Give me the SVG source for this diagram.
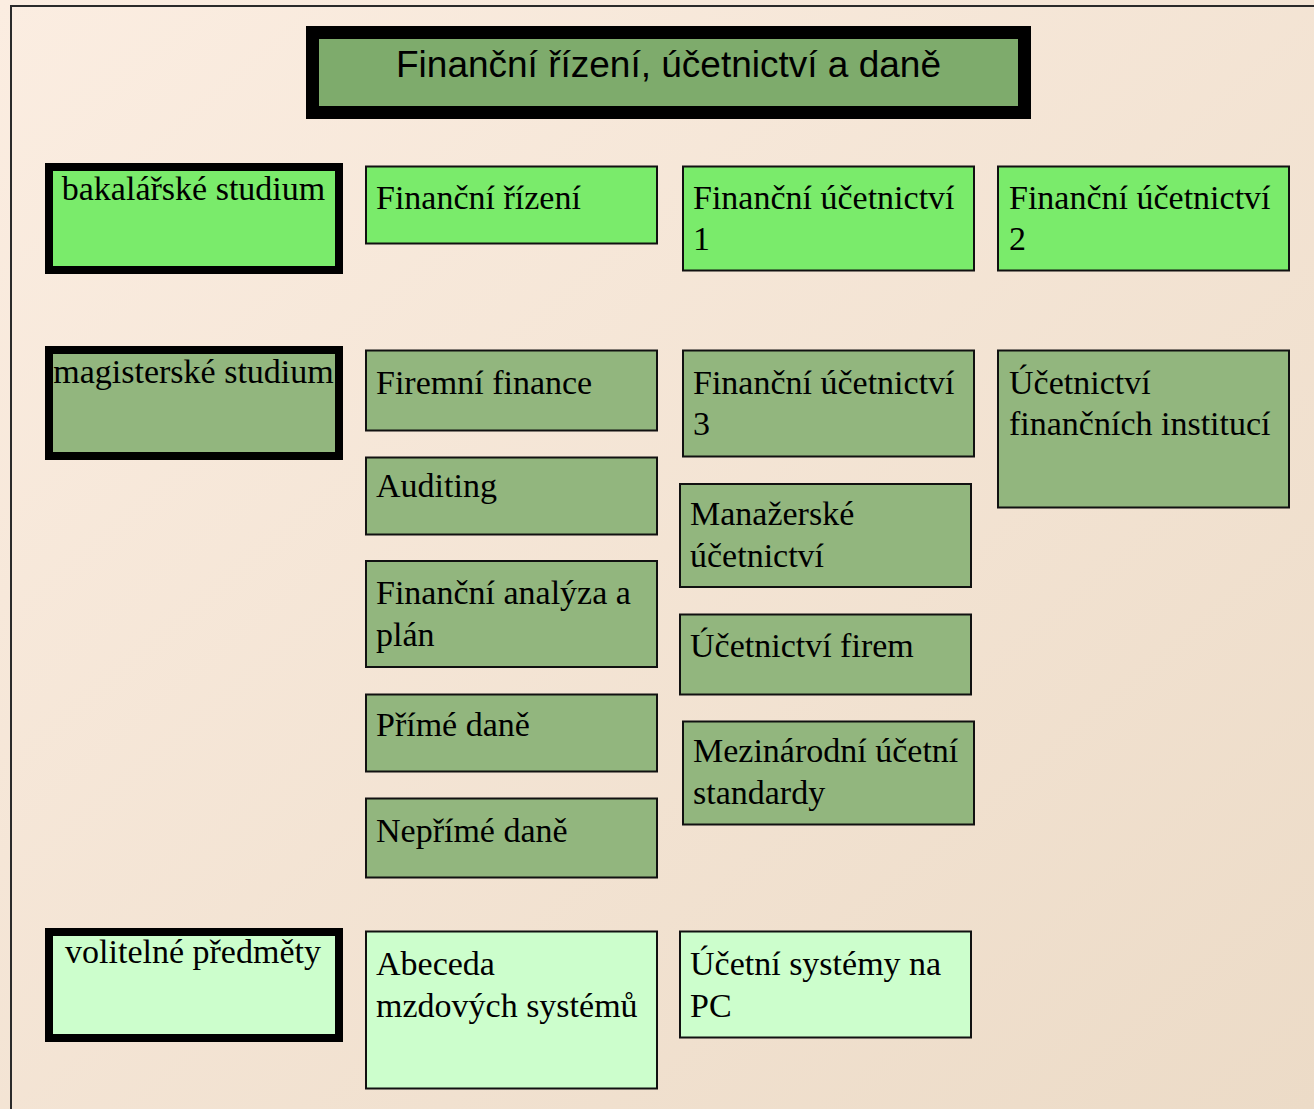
<svg xmlns="http://www.w3.org/2000/svg" width="1314" height="1109" viewBox="0 0 1314 1109">
<defs>
<linearGradient id="bg" x1="0" y1="0" x2="1" y2="1">
<stop offset="0" stop-color="#fbede1"/>
<stop offset="1" stop-color="#ecdbc7"/>
</linearGradient>
<style>
.t{font-family:"Liberation Serif","Times New Roman",serif;font-size:34px;fill:#000}
.h{font-family:"Liberation Sans",Arial,sans-serif;font-size:37px;fill:#000}
.c{text-anchor:middle}
.b{fill:#7aeb6b;stroke:#111;stroke-width:2}
.m{fill:#92b67e;stroke:#111;stroke-width:2}
.l{fill:#ccfecc;stroke:#111;stroke-width:2}
.k{stroke:#000;stroke-width:8}
</style>
</defs>
<rect x="0" y="0" width="1314" height="1109" fill="url(#bg)"/>
<path d="M11,1109 V6 H1314" fill="none" stroke="#2a2a2a" stroke-width="2"/>

<g id="title">
<rect x="312.5" y="32.5" width="712" height="80" fill="#7eab6c" stroke="#000" stroke-width="13"/>
<text class="h c" x="668.5" y="77">Finanční řízení, účetnictví a daně</text>
</g>

<g id="bakalarske">
<rect class="b k" x="49" y="167" width="290" height="103"/>
<text class="t c" x="193.5" y="199.5">bakalářské studium</text>
</g>
<g id="magisterske">
<rect class="m k" x="49" y="350" width="290" height="106"/>
<text class="t c" x="193.5" y="383">magisterské studium</text>
</g>
<g id="volitelne">
<rect class="l k" x="49" y="932" width="290" height="106"/>
<text class="t c" x="193" y="963">volitelné předměty</text>
</g>

<g id="financni-rizeni">
<rect class="b" x="366" y="166.5" width="291" height="77"/>
<text class="t" x="376" y="209">Finanční řízení</text>
</g>
<g id="fu1">
<rect class="b" x="683" y="166.5" width="291" height="104"/>
<text class="t" x="693" y="209">Finanční účetnictví</text>
<text class="t" x="693" y="250">1</text>
</g>
<g id="fu2">
<rect class="b" x="998" y="166.5" width="291" height="104"/>
<text class="t" x="1009" y="209">Finanční účetnictví</text>
<text class="t" x="1009" y="250">2</text>
</g>

<g id="firemni-finance">
<rect class="m" x="366" y="350.5" width="291" height="80"/>
<text class="t" x="376" y="393.5">Firemní finance</text>
</g>
<g id="fu3">
<rect class="m" x="683" y="350.5" width="291" height="106"/>
<text class="t" x="693" y="393.5">Finanční účetnictví</text>
<text class="t" x="693" y="435">3</text>
</g>
<g id="ufi">
<rect class="m" x="998" y="350.5" width="291" height="157"/>
<text class="t" x="1009" y="393.5">Účetnictví</text>
<text class="t" x="1009" y="435">finančních institucí</text>
</g>

<g id="auditing">
<rect class="m" x="366" y="457.5" width="291" height="77"/>
<text class="t" x="376" y="497">Auditing</text>
</g>
<g id="manazerske">
<rect class="m" x="680" y="484" width="291" height="103"/>
<text class="t" x="690" y="525">Manažerské</text>
<text class="t" x="690" y="567">účetnictví</text>
</g>

<g id="fin-analyza">
<rect class="m" x="366" y="561" width="291" height="106"/>
<text class="t" x="376" y="603.5">Finanční analýza a</text>
<text class="t" x="376" y="646">plán</text>
</g>
<g id="ucetnictvi-firem">
<rect class="m" x="680" y="614.5" width="291" height="80"/>
<text class="t" x="690" y="657">Účetnictví firem</text>
</g>

<g id="prime-dane">
<rect class="m" x="366" y="694.5" width="291" height="77"/>
<text class="t" x="376" y="735.5">Přímé daně</text>
</g>
<g id="mezinarodni">
<rect class="m" x="683" y="721.5" width="291" height="103"/>
<text class="t" x="693" y="762">Mezinárodní účetní</text>
<text class="t" x="693" y="804">standardy</text>
</g>

<g id="neprime-dane">
<rect class="m" x="366" y="798.5" width="291" height="79"/>
<text class="t" x="376" y="842">Nepřímé daně</text>
</g>

<g id="abeceda">
<rect class="l" x="366" y="931.5" width="291" height="157"/>
<text class="t" x="376" y="975">Abeceda</text>
<text class="t" x="376" y="1016.5">mzdových systémů</text>
</g>
<g id="ucetni-systemy">
<rect class="l" x="680" y="931.5" width="291" height="106"/>
<text class="t" x="690" y="975">Účetní systémy na</text>
<text class="t" x="690" y="1016.5">PC</text>
</g>

<g id="connectors"></g>
</svg>
